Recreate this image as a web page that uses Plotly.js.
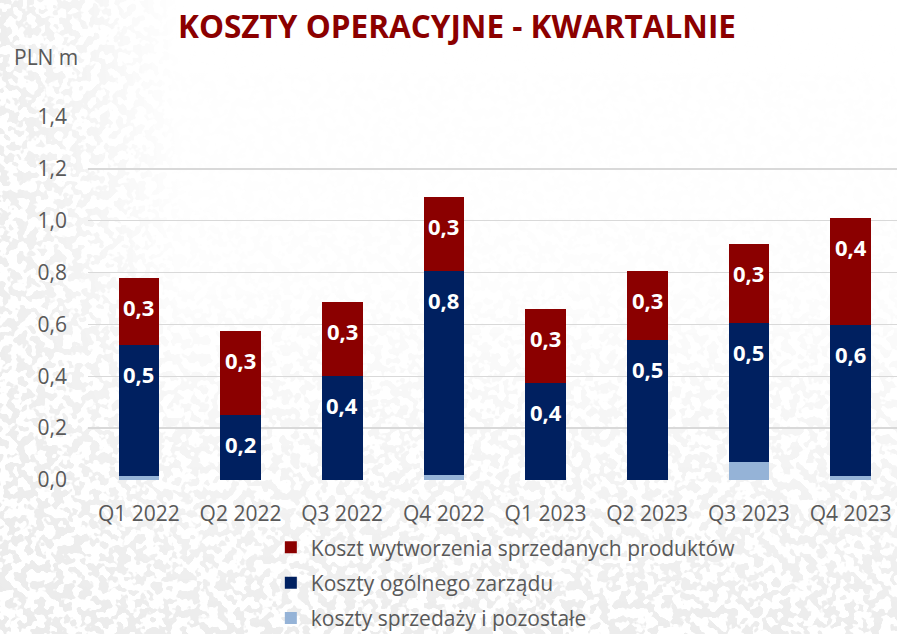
<!DOCTYPE html>
<html>
<head>
<meta charset="utf-8">
<script src="https://cdn.plot.ly/plotly-3.0.1.min.js"></script>
<style>
  html, body { margin: 0; padding: 0; width: 897px; height: 634px; overflow: hidden; background: #ffffff; }
  #bg { position: absolute; left: 0; top: 0; width: 897px; height: 634px; }
  #chart { position: absolute; left: 0; top: 0; width: 897px; height: 634px; }
</style>
</head>
<body>
<div id="bg"></div>
<div id="chart"></div>
<script>
// ---- data ----
const categories = ["Q1 2022", "Q2 2022", "Q3 2022", "Q4 2022", "Q1 2023", "Q2 2023", "Q3 2023", "Q4 2023"];
const sprzedazy = [0.017, 0.0, 0.0, 0.02, 0.0, 0.0, 0.068, 0.016];
const zarzadu = [0.502, 0.249, 0.400, 0.788, 0.374, 0.540, 0.537, 0.581];
const wytworzenia = [0.260, 0.327, 0.285, 0.284, 0.284, 0.268, 0.307, 0.413];
const seriesNames = ["koszty sprzedaży i pozostałe", "Koszty ogólnego zarządu", "Koszt wytworzenia sprzedanych produktów"];
const yTicks = [0, 0.2, 0.4, 0.6, 0.8, 1.0, 1.2, 1.4];

// ---- textured background ----
const svg = "<svg xmlns='http://www.w3.org/2000/svg' width='897' height='634'>" +
  "<defs>" +
  "<filter id='n' x='0' y='0' width='100%' height='100%' color-interpolation-filters='sRGB'>" +
  "<feTurbulence type='fractalNoise' baseFrequency='0.11' numOctaves='2' seed='7'/>" +
  "<feColorMatrix type='matrix' values='0 0 0 0 0.92  0 0 0 0 0.92  0 0 0 0 0.92  22 0 0 0 -10.6'/>" +
  "</filter>" +
  "<linearGradient id='vg' x1='0' y1='0' x2='0' y2='1'>" +
  "<stop offset='0' stop-color='#fff' stop-opacity='0'/>" +
  "<stop offset='0.45' stop-color='#fff' stop-opacity='0.1'/>" +
  "<stop offset='0.72' stop-color='#fff' stop-opacity='0.55'/>" +
  "<stop offset='1' stop-color='#fff' stop-opacity='0.95'/>" +
  "</linearGradient>" +
  "<linearGradient id='hg' x1='0' y1='0' x2='1' y2='0'>" +
  "<stop offset='0' stop-color='#fff' stop-opacity='0.85'/>" +
  "<stop offset='0.1' stop-color='#fff' stop-opacity='0.5'/>" +
  "<stop offset='0.2' stop-color='#fff' stop-opacity='0'/>" +
  "</linearGradient>" +
  "<mask id='m'><rect width='897' height='634' fill='url(#vg)'/><rect width='897' height='634' fill='url(#hg)'/></mask>" +
  "</defs>" +
  "<rect width='897' height='634' fill='#ffffff'/>" +
  "<g mask='url(#m)'><rect width='897' height='634' filter='url(#n)'/></g>" +
  "</svg>";
document.getElementById('bg').style.background = "url(\"data:image/svg+xml," + encodeURIComponent(svg) + "\")";

const fmt = v => v.toFixed(1).replace('.', ',');
const FONT = "'Open Sans', 'Noto Sans', sans-serif";
const colors = ["#95B3D7", "#002060", "#8B0000"];
const ranks = [3, 2, 1];

const series = [sprzedazy, zarzadu, wytworzenia];
const traces = series.map((vals, i) => ({
  type: 'bar',
  name: seriesNames[i],
  x: categories,
  y: vals,
  marker: { color: colors[i], line: { width: 0 } },
  legendgroup: 'g' + i,
  legendrank: ranks[i],
  hoverinfo: 'x+y+name'
}));

// labels for navy and red segments, placed near top of each segment
const annotations = [];
categories.forEach((c, i) => {
  const topNavy = sprzedazy[i] + zarzadu[i];
  const topRed = topNavy + wytworzenia[i];
  annotations.push({ x: c, y: topNavy, xref: 'x', yref: 'y', text: fmt(zarzadu[i]), showarrow: false,
    yanchor: 'middle', yshift: -29, font: { family: FONT, size: 22, color: '#ffffff', weight: 'bold' } });
  annotations.push({ x: c, y: topRed, xref: 'x', yref: 'y', text: fmt(wytworzenia[i]), showarrow: false,
    yanchor: 'middle', yshift: -29, font: { family: FONT, size: 22, color: '#ffffff', weight: 'bold' } });
});
annotations.push({ x: -0.094, y: 1.164, xref: 'paper', yref: 'paper', text: 'PLN m', showarrow: false,
  xanchor: 'left', yanchor: 'middle', font: { family: FONT, size: 21, color: '#595959' } });

const layout = {
  width: 897, height: 634,
  margin: { l: 88, r: 0, t: 117, b: 154, pad: 0, autoexpand: false },
  paper_bgcolor: 'rgba(0,0,0,0)',
  plot_bgcolor: 'rgba(0,0,0,0)',
  separators: ',.',
  barmode: 'stack',
  bargap: 0.6,
  title: {
    text: '<b>KOSZTY OPERACYJNE - KWARTALNIE</b>',
    x: 457 / 897, xref: 'container', xanchor: 'center',
    y: 1 - 27 / 634, yref: 'container', yanchor: 'middle',
    font: { family: FONT, size: 31.5, color: '#8B0000' }
  },
  xaxis: {
    type: 'category',
    range: [-0.5, 7.457],
    automargin: false,
    showgrid: false, zeroline: false, showline: false, ticks: '',
    tickfont: { family: FONT, size: 21, color: '#595959' },
    ticklabelstandoff: 19,
    fixedrange: true
  },
  yaxis: {
    range: [0, 1.4],
    automargin: false,
    tickvals: yTicks,
    ticktext: yTicks.map(fmt),
    showgrid: true, gridcolor: '#d9d9d9', gridwidth: 1.5,
    zeroline: false, showline: false, ticks: '',
    tickfont: { family: FONT, size: 21, color: '#595959' },
    ticklabelstandoff: 20,
    fixedrange: true
  },
  showlegend: true,
  legend: {
    orientation: 'v',
    traceorder: 'grouped',
    tracegroupgap: 5,
    x: 0.226, xanchor: 'left',
    y: -0.130, yanchor: 'top',
    bgcolor: 'rgba(0,0,0,0)',
    font: { family: FONT, size: 21, color: '#595959' },
    itemwidth: 30
  },
  annotations: annotations
};

Plotly.newPlot('chart', traces, layout, { displayModeBar: false, staticPlot: true });
</script>
</body>
</html>
